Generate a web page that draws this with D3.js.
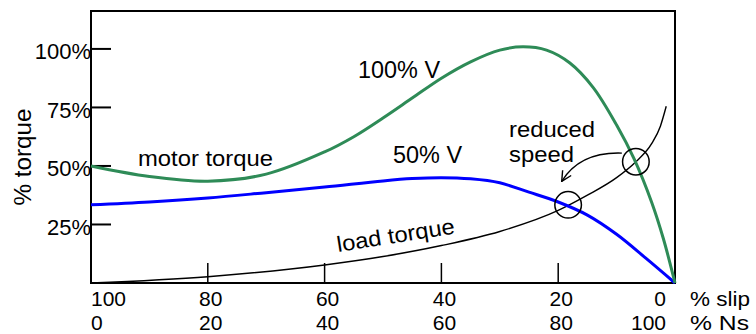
<!DOCTYPE html>
<html>
<head>
<meta charset="utf-8">
<script src="https://cdn.jsdelivr.net/npm/d3@7"></script>
<style>
  html, body { margin: 0; padding: 0; background: #fff; }
  svg text { font-family: "Liberation Sans", Arial, Helvetica, sans-serif; fill: #000; }
</style>
</head>
<body>
<svg id="chart" width="756" height="334"></svg>
<script>
// ---- data (slip %, torque %) ----
const fullSlip    = [100, 90, 80, 70, 60, 55, 50, 45, 40, 35, 30, 26, 22, 18, 14, 10, 7, 4, 2, 0];
const fullTorque  = [50.0, 45.5, 43.5, 46.5, 56.0, 62.5, 70.5, 79.0, 87.5, 94.5, 99.5, 100.9, 99.5, 94.0, 83.5, 67.5, 53.0, 34.5, 19.0, 0];
const halfSlip    = [100, 90, 80, 70, 60, 50, 45, 40, 35, 30, 25, 20, 15, 10, 5, 0];
const halfTorque  = [33.4, 34.6, 36.3, 38.6, 41.0, 43.6, 44.6, 45.0, 44.5, 42.8, 38.8, 34.6, 29.0, 20.8, 10.6, 0];
const loadSlip    = [100, 80, 60, 50, 40, 30, 20, 15, 10, 6.7, 4, 2.5, 1.5];
const loadTorque  = [0, 2.7, 7.7, 11.3, 16.0, 22.0, 31.0, 37.5, 45.0, 51.8, 59.5, 67.0, 75.5];
const yTicks      = [25, 50, 75, 100];
const yTickLabels = ["25%", "50%", "75%", "100%"];
const xTicks      = [100, 80, 60, 40, 20, 0];
const slipLabels  = ["100", "80", "60", "40", "20", "0"];
const nsLabels    = ["0", "20", "40", "60", "80", "100"];
const opPoints    = [{slip: 18.3, torque: 33.4}, {slip: 6.7, torque: 51.8}];
const arrowPath   = [{slip: 9.1, torque: 55.5}, {slip: 16.3, torque: 56.1}, {slip: 19.4, torque: 43.4}];

// ---- layout ----
const svg = d3.select("#chart");
const L = 91, R = 675, T = 11, B = 283;
const x = d3.scaleLinear().domain([100, 0]).range([L, R]);
const y = d3.scaleLinear().domain([0, 116.2]).range([B, T]);

const smooth = d3.line().x(d => x(d[0])).y(d => y(d[1])).curve(d3.curveCatmullRom.alpha(0.5));
const mono = d3.line().x(d => x(d[0])).y(d => y(d[1])).curve(d3.curveMonotoneX);

// frame
svg.append("rect").attr("x", L).attr("y", T).attr("width", R - L).attr("height", B - T)
  .attr("fill", "none").attr("stroke", "#000").attr("stroke-width", 2);

// y ticks
svg.selectAll(".yt").data(yTicks).enter().append("line")
  .attr("x1", L).attr("x2", L + 20).attr("y1", d => y(d)).attr("y2", d => y(d))
  .attr("stroke", "#000").attr("stroke-width", 2);
svg.selectAll(".yl").data(yTicks).enter().append("text")
  .attr("x", L).attr("y", d => y(d) + 10.5).attr("text-anchor", "end")
  .attr("font-size", 22).text((d, i) => yTickLabels[i]);

// x ticks (inner only)
svg.selectAll(".xt").data(xTicks.filter(d => d > 0 && d < 100)).enter().append("line")
  .attr("x1", d => x(d)).attr("x2", d => x(d)).attr("y1", B).attr("y2", B - 20)
  .attr("stroke", "#000").attr("stroke-width", 1.5);

const XFS = 21, ROW1 = 306, ROW2 = 329.5;
function anchorFor(i, n) { return i === 0 ? "start" : (i === n - 1 ? "end" : "middle"); }
function xPos(d, i, n) { return i === 0 ? x(d) : (i === n - 1 ? x(d) - 9 : x(d) + 3); }
svg.selectAll(".xl1").data(xTicks).enter().append("text")
  .attr("x", (d, i) => xPos(d, i, xTicks.length)).attr("y", ROW1)
  .attr("text-anchor", (d, i) => anchorFor(i, xTicks.length))
  .attr("font-size", XFS).text((d, i) => slipLabels[i]);
svg.selectAll(".xl2").data(xTicks).enter().append("text")
  .attr("x", (d, i) => xPos(d, i, xTicks.length)).attr("y", ROW2)
  .attr("text-anchor", (d, i) => anchorFor(i, xTicks.length))
  .attr("font-size", XFS).text((d, i) => nsLabels[i]);
svg.append("text").attr("x", 690).attr("y", ROW1).attr("font-size", XFS)
  .attr("textLength", 60).attr("lengthAdjust", "spacingAndGlyphs").text("% slip");
svg.append("text").attr("x", 690).attr("y", ROW2).attr("font-size", XFS)
  .attr("textLength", 59).attr("lengthAdjust", "spacingAndGlyphs").text("% Ns");

// y axis title
svg.append("text").attr("transform", "translate(31,157) rotate(-90)")
  .attr("text-anchor", "middle").attr("font-size", 23)
  .attr("textLength", 97).attr("lengthAdjust", "spacingAndGlyphs").text("% torque");

// curves
svg.append("path").datum(d3.zip(loadSlip, loadTorque)).attr("d", mono)
  .attr("fill", "none").attr("stroke", "#000").attr("stroke-width", 1.4);
svg.append("path").datum(d3.zip(halfSlip, halfTorque)).attr("d", smooth)
  .attr("fill", "none").attr("stroke", "#0000ff").attr("stroke-width", 3);
svg.append("path").datum(d3.zip(fullSlip, fullTorque)).attr("d", smooth)
  .attr("fill", "none").attr("stroke", "#2e8b57").attr("stroke-width", 3);

// operating-point circles
svg.selectAll(".op").data(opPoints).enter().append("circle")
  .attr("cx", d => x(d.slip)).attr("cy", d => y(d.torque)).attr("r", 13.3)
  .attr("fill", "none").attr("stroke", "#000").attr("stroke-width", 1.5);

// arrow
const defs = svg.append("defs");
defs.append("marker").attr("id", "ah").attr("viewBox", "0 0 12 12").attr("refX", 11).attr("refY", 6)
  .attr("markerWidth", 12).attr("markerHeight", 12).attr("markerUnits", "userSpaceOnUse").attr("orient", "auto")
  .append("path").attr("d", "M1,1 L11,6 L1,11").attr("fill", "none").attr("stroke", "#000").attr("stroke-width", 1.4);
const a = arrowPath;
svg.append("path")
  .attr("d", `M${x(a[0].slip)},${y(a[0].torque)} Q${x(a[1].slip)},${y(a[1].torque)} ${x(a[2].slip)},${y(a[2].torque)}`)
  .attr("fill", "none").attr("stroke", "#000").attr("stroke-width", 1.4).attr("marker-end", "url(#ah)");

// labels
function label(tx, ty, txt, len, size) {
  return svg.append("text").attr("x", tx).attr("y", ty).attr("font-size", size || 22)
    .attr("textLength", len).attr("lengthAdjust", "spacingAndGlyphs").text(txt);
}
label(138, 166, "motor torque", 135);
label(358, 78, "100% V", 82, 23);
label(393, 163, "50% V", 69, 23);
label(509, 137, "reduced", 86);
label(509, 162, "speed", 65);
svg.append("text").attr("transform", "translate(338,252) rotate(-9)").attr("font-size", 22)
  .attr("textLength", 119).attr("lengthAdjust", "spacingAndGlyphs").text("load torque");
</script>
</body>
</html>
